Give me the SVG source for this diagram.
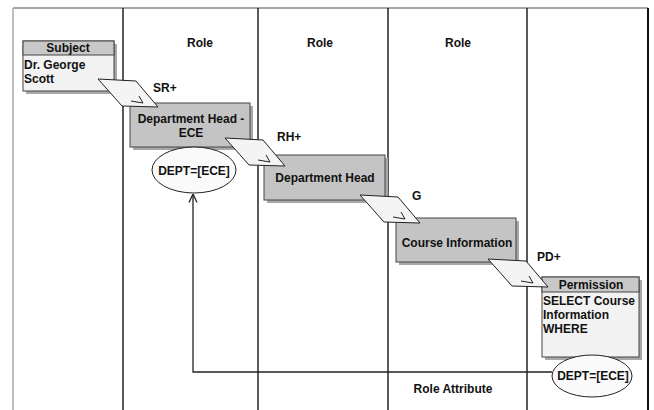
<svg xmlns="http://www.w3.org/2000/svg" width="654" height="410" viewBox="0 0 654 410">
  <style>
    text { font-family: "Liberation Sans", Arial, sans-serif; font-weight: bold; font-size: 12px; fill: #111; }
    .mid { text-anchor: middle; }
    .lane { stroke: #222; stroke-width: 1.5; fill: none; }
    .box { fill: #c4c4c4; stroke: #444; stroke-width: 1; }
    .hdr { fill: #c8c8c8; stroke: #444; stroke-width: 1; }
    .body { fill: #f2f2f2; stroke: #444; stroke-width: 1; }
    .shadow { fill: #a8a8a8; }
    .flow { fill: #f4f4f4; stroke: #222; stroke-width: 1; }
    .mark { fill: none; stroke: #222; stroke-width: 1; }
    .attr { fill: #fafafa; stroke: #222; stroke-width: 1; }
    .conn { fill: none; stroke: #222; stroke-width: 1.3; }
  </style>
  <defs>
    <marker id="openArrow" viewBox="0 0 10 10" refX="9.5" refY="5" markerWidth="10" markerHeight="10" markerUnits="userSpaceOnUse" orient="auto">
      <path d="M1,1 L9.5,5 L1,9" fill="none" stroke="#222" stroke-width="1.3"/>
    </marker>
    <g id="flowShape">
      <path class="flow" d="M0,0 L38,2 L60,28 L24,27 Z"/>
      <polyline class="mark" points="41,17 45,24 33,22"/>
    </g>
  </defs>

  <!-- swimlane frame -->
  <g id="lanes">
    <line x1="13" y1="8" x2="648" y2="8" stroke="#8a8a8a" stroke-width="1.5"/>
    <line x1="13" y1="8" x2="13" y2="410" stroke="#aaa" stroke-width="1.5"/>
    <line x1="648" y1="8" x2="648" y2="410" stroke="#111" stroke-width="2"/>
    <line class="lane" x1="123" y1="8" x2="123" y2="410"/>
    <line class="lane" x1="258" y1="8" x2="258" y2="410"/>
    <line class="lane" x1="388" y1="8" x2="388" y2="410"/>
    <line class="lane" x1="527" y1="8" x2="527" y2="410"/>
    <text class="mid" x="200" y="47">Role</text>
    <text class="mid" x="320" y="47">Role</text>
    <text class="mid" x="458" y="47">Role</text>
    <text class="mid" x="453" y="393">Role Attribute</text>
  </g>

  <!-- connectors -->
  <g id="connectors">
    <polyline class="conn" points="552,372 193,372 193,194" marker-end="url(#openArrow)"/>
  </g>

  <g id="subject">
    <rect class="shadow" x="26" y="44" width="91" height="50"/>
    <rect class="body" x="23" y="41" width="91" height="50"/>
    <rect class="hdr" x="23" y="41" width="91" height="14"/>
    <text class="mid" x="68" y="52">Subject</text>
    <text x="24" y="69">Dr. George</text>
    <text x="24" y="83">Scott</text>
  </g>

  <g id="role-dept-head-ece">
    <rect class="shadow" x="133" y="106" width="120" height="44"/>
    <rect class="box" x="130" y="103" width="120" height="44"/>
    <text class="mid" x="191" y="123">Department Head -</text>
    <text class="mid" x="191" y="137">ECE</text>
  </g>

  <g id="attr-dept-left">
    <ellipse class="attr" cx="194" cy="170" rx="42" ry="23"/>
    <text class="mid" x="194" y="175">DEPT=[ECE]</text>
  </g>

  <g id="role-dept-head">
    <rect class="shadow" x="267" y="158" width="121" height="45"/>
    <rect class="box" x="264" y="155" width="121" height="45"/>
    <text class="mid" x="325" y="182">Department Head</text>
  </g>

  <g id="role-course-info">
    <rect class="shadow" x="399" y="221" width="120" height="44"/>
    <rect class="box" x="396" y="218" width="120" height="44"/>
    <text class="mid" x="457" y="247">Course Information</text>
  </g>

  <g id="permission">
    <rect class="shadow" x="545" y="280" width="97" height="80"/>
    <rect class="body" x="542" y="277" width="97" height="80"/>
    <rect class="hdr" x="542" y="277" width="97" height="15"/>
    <text class="mid" x="591" y="289">Permission</text>
    <text x="543" y="305">SELECT Course</text>
    <text x="543" y="319">Information</text>
    <text x="543" y="333">WHERE</text>
  </g>

  <g id="attr-dept-right">
    <ellipse class="attr" cx="592" cy="376" rx="40" ry="21"/>
    <text class="mid" x="593" y="380">DEPT=[ECE]</text>
  </g>

  <g id="flow-sr">
    <use href="#flowShape" x="98" y="79"/>
    <text x="153" y="92">SR+</text>
  </g>
  <g id="flow-rh">
    <use href="#flowShape" x="225" y="138"/>
    <text x="277" y="141">RH+</text>
  </g>
  <g id="flow-g">
    <use href="#flowShape" x="360" y="195"/>
    <text x="412" y="200">G</text>
  </g>
  <g id="flow-pd">
    <use href="#flowShape" x="488" y="259"/>
    <text x="537" y="261">PD+</text>
  </g>
</svg>
